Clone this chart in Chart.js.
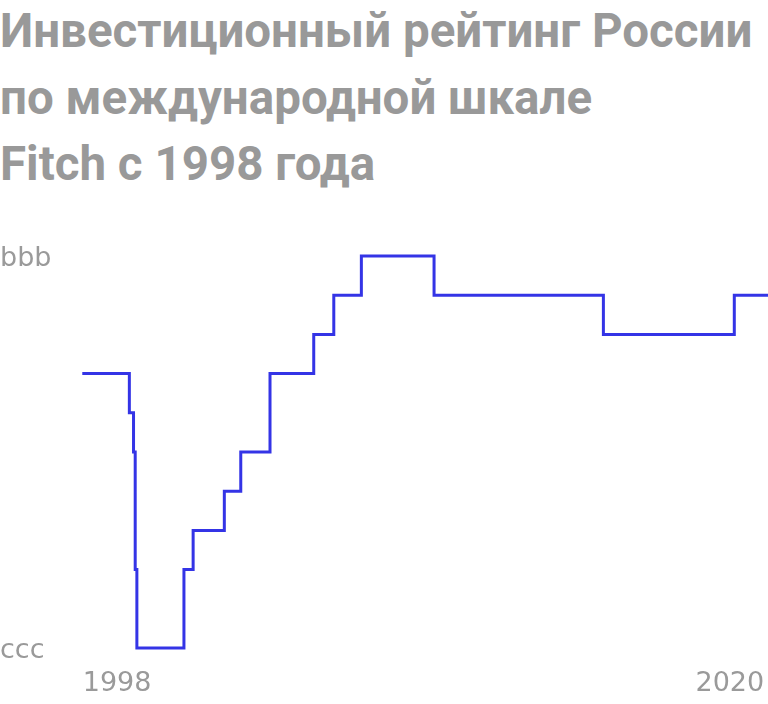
<!DOCTYPE html>
<html lang="ru">
<head>
<meta charset="utf-8">
<title>Рейтинг России Fitch</title>
<script src="https://cdn.jsdelivr.net/npm/chart.js@4/dist/chart.umd.min.js"></script>
<style>
    html, body { margin: 0; padding: 0; background: #fff; }
    #wrap { position: relative; width: 768px; height: 704px; overflow: hidden; }
    #title {
        position: absolute; left: 0; top: -2px; margin: 0;
        font-family: Roboto, "Noto Sans", sans-serif; font-weight: 700;
        font-size: 47.5px; line-height: 66.5px; color: #999;
        white-space: nowrap;
    }
    #myChart { position: absolute; left: 0; top: 0; }
</style>
</head>
<body>
<div id="wrap">
    <h1 id="title">Инвестиционный рейтинг России<br>по международной шкале<br>Fitch с 1998 года</h1>
    <canvas id="myChart" width="768" height="704"></canvas>
</div>
<script>
// when the rating changed (fractional year) and the level after the change
// level 0 = ccc (bottom), 10 = top of the scale ("bbb" label)
const changeDates = [1996.75, 1998.44, 1998.59, 1998.65, 1998.71, 2000.40, 2000.73, 2001.85,
                     2002.44, 2003.49, 2005.06, 2005.78, 2006.77, 2009.38, 2015.46, 2020.16, 2021.37]
const ratingLevels = [7, 6, 5, 2, 0, 2, 3, 4, 5, 7, 8, 9, 10, 9, 8, 9, 9]

const yearTicks = [1998, 2020]
const levelLabels = { 0: 'ccc', 10: 'bbb' }

const gray = '#9a9a9a'
const points = changeDates.map((d, i) => ({ x: d, y: ratingLevels[i] }))

const ctx = document.getElementById('myChart').getContext('2d');
const myChart = new Chart(ctx, {
    type: 'line',
    data: {
        datasets: [{
            data: points,
            stepped: 'before',
            borderColor: '#3434e6',
            borderWidth: 3,
            pointRadius: 0,
            fill: false,
            clip: 4
        }]
    },
    options: {
        responsive: false,
        animation: false,
        layout: {
            padding: { top: 256, left: 0, right: 0, bottom: 0 }
        },
        plugins: {
            legend: { display: false },
            tooltip: { enabled: false }
        },
        scales: {
            x: {
                type: 'linear',
                min: 1995.95,
                max: 2021.37,
                border: { display: false },
                grid: { display: false, drawTicks: false },
                afterBuildTicks: (scale) => {
                    scale.ticks = yearTicks.map(v => ({ value: v }))
                },
                afterFit: (scale) => {
                    scale.height = 56
                    scale.paddingLeft = 0
                    scale.paddingRight = 0
                },
                ticks: {
                    autoSkip: false,
                    maxRotation: 0,
                    padding: 20,
                    color: gray,
                    font: { family: 'DejaVu Sans', size: 27 },
                    callback: (v) => String(v)
                }
            },
            y: {
                min: 0,
                max: 10,
                border: { display: false },
                grid: { display: false, drawTicks: false },
                afterBuildTicks: (scale) => {
                    scale.ticks = [{ value: 0 }, { value: 10 }]
                },
                afterFit: (scale) => { scale.width = 60 },
                ticks: {
                    crossAlign: 'far',
                    labelOffset: 3,
                    color: gray,
                    font: { family: 'DejaVu Sans', size: 27 },
                    callback: (v) => levelLabels[v]
                }
            }
        }
    }
});
</script>
</body>
</html>
